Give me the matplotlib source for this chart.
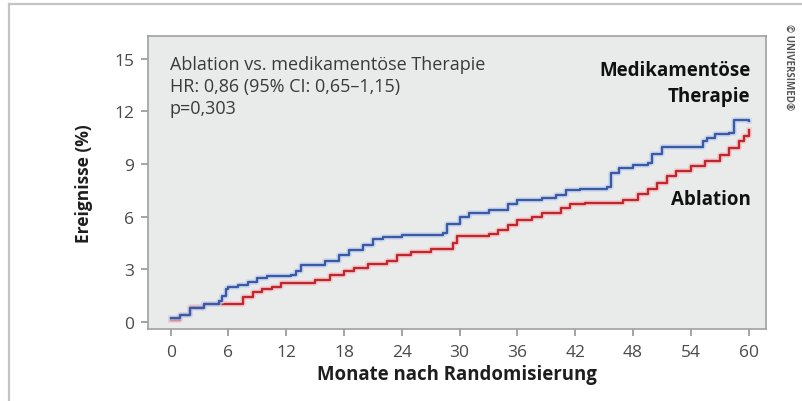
import matplotlib

matplotlib.use("Agg")
import matplotlib.pyplot as plt
import matplotlib.patheffects as pe
from matplotlib.lines import Line2D

# cumulative events (%) per arm, step changes at the given months
med_months = [0, 1, 2, 3.5, 5, 5.3, 5.7, 6, 7, 8, 9, 10, 12.5, 13, 13.5, 16, 17.5, 18.5,
              20, 21, 22, 24, 28.3, 28.7, 30, 31, 33, 35, 36, 38.5, 40, 41, 42.5, 45.3,
              45.7, 46.5, 48, 49.5, 50, 51, 55.3, 55.7, 56.5, 58, 58.5, 60]
med_events = [0.2, 0.4, 0.8, 1.0, 1.2, 1.5, 1.9, 2.0, 2.1, 2.3, 2.5, 2.6, 2.7, 2.9, 3.25,
              3.5, 3.8, 4.1, 4.4, 4.75, 4.85, 4.95, 5.05, 5.6, 6.0, 6.2, 6.4, 6.7, 6.95,
              7.05, 7.25, 7.5, 7.6, 7.7, 8.5, 8.75, 8.95, 9.05, 9.6, 10.0, 10.3, 10.5,
              10.7, 10.75, 11.5, 11.45]

abl_months = [0, 1, 2, 3.5, 7.5, 8.5, 9.5, 10.5, 11.5, 15, 16.5, 18, 19, 20.5, 22.5, 23.5,
              25, 27, 29.3, 29.7, 33, 34, 35, 36, 37.5, 38.5, 40.5, 41.5, 43, 47, 48.5,
              49.5, 50.5, 51.5, 52.5, 54, 55.5, 57, 58, 59, 59.5, 60]
abl_events = [0.1, 0.4, 0.85, 1.0, 1.4, 1.7, 1.9, 2.0, 2.2, 2.4, 2.65, 2.9, 3.1, 3.3, 3.5,
              3.8, 4.0, 4.15, 4.5, 4.9, 5.0, 5.25, 5.55, 5.8, 6.0, 6.2, 6.5, 6.7, 6.8, 6.95,
              7.3, 7.6, 7.95, 8.3, 8.6, 8.9, 9.15, 9.5, 9.9, 10.3, 10.6, 10.95]

x_ticks = list(range(0, 61, 6))
y_ticks = [0, 3, 6, 9, 12, 15]
stats_lines = ["Ablation vs. medikamentöse Therapie",
               "HR: 0,86 (95% CI: 0,65\u20131,15)",
               "p=0,303"]

BLUE = "#3b5aa5"
RED = "#bf262e"
TICK_GREY = "#4a4a4a"

plt.rcParams["font.family"] = ["Open Sans", "DejaVu Sans"]

fig = plt.figure(figsize=(8.02, 4.02), dpi=100)
ax = fig.add_axes([148 / 802, 1 - 330 / 402, 618 / 802, 293 / 402])
ax.set_facecolor("#e9ebeb")

# thin frame around the whole figure (top and left edges)
fig.add_artist(Line2D([9 / 802, 1], [1 - 5 / 402] * 2, color="#c4c4c4", lw=1.6))
fig.add_artist(Line2D([9 / 802] * 2, [0, 1 - 5 / 402], color="#c4c4c4", lw=1.6))

ax.step(abl_months, abl_events, where="post", color=RED, lw=1.7,
        path_effects=[pe.Stroke(linewidth=4.2, foreground="#f2c4c6", alpha=0.7), pe.Normal()])
ax.step(med_months, med_events, where="post", color=BLUE, lw=1.7,
        path_effects=[pe.Stroke(linewidth=4.2, foreground="#c6d3ee", alpha=0.7), pe.Normal()])

ax.set_xlim(-2.35, 61.8)
ax.set_ylim(-0.4, 16.3)
ax.set_xticks(x_ticks)
ax.set_yticks(y_ticks)
ax.tick_params(axis="both", colors="#8c8c8c", labelcolor=TICK_GREY, labelsize=12.5,
               length=5, width=1.1)
ax.tick_params(axis="x", pad=6)
ax.tick_params(axis="y", pad=5)
for spine in ax.spines.values():
    spine.set_color("#a0a0a0")
    spine.set_linewidth(1.2)

ax.set_xlabel("Monate nach Randomisierung", fontsize=13.4, fontweight="bold",
              color="#1e1e1e", labelpad=3)
ax.set_ylabel("Ereignisse (%)", fontsize=12.5, fontweight="bold", color="#1e1e1e",
              labelpad=15)

for i, line in enumerate(stats_lines):
    ax.text(0.035, 0.905 - i * 0.075, line, transform=ax.transAxes, fontsize=13,
            color="#3a3a3a", va="center", ha="left")

ax.text(0.975, 0.885, "Medikamentöse", transform=ax.transAxes, fontsize=13.5,
        fontweight="bold", color="#111111", ha="right", va="center")
ax.text(0.975, 0.795, "Therapie", transform=ax.transAxes, fontsize=13.5,
        fontweight="bold", color="#111111", ha="right", va="center")
ax.text(0.975, 0.445, "Ablation", transform=ax.transAxes, fontsize=13.5,
        fontweight="bold", color="#111111", ha="right", va="center")

fig.text(789 / 802, 1 - 24 / 402, "\u00a9 UNIVERSIMED\u00ae", rotation=-90, fontsize=7,
         fontweight="bold", color="#555555", ha="center", va="top")

fig.savefig("out.png", dpi=100)
